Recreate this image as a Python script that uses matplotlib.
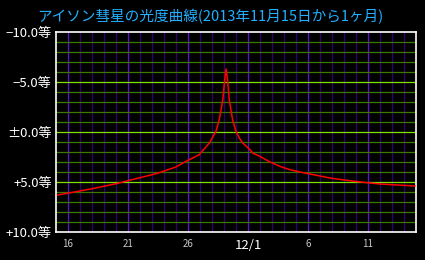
import numpy as np
import matplotlib.pyplot as plt

plt.rcParams['font.family'] = ['Noto Sans CJK JP', 'DejaVu Sans']

# days since 2013-11-15, magnitude
days = [0.14, 1.67, 3.33, 5.0, 6.67, 8.33, 10.0, 10.83, 11.94, 12.78, 13.33,
        13.6, 13.9, 14.03, 14.17, 14.3, 14.44, 14.72, 15.0, 15.33, 15.56,
        16.17, 16.39, 17.0, 17.83, 18.67, 19.5, 20.33, 21.17, 22.0, 22.83,
        23.67, 24.5, 25.2, 26.17, 27.0, 29.9]
mags = [6.3, 5.97, 5.6, 5.17, 4.67, 4.17, 3.5, 2.94, 2.27, 1.1, -0.06,
        -1.2, -3.2, -4.9, -6.3, -5.2, -3.2, -1.2, -0.06, 0.7, 1.1,
        1.77, 2.1, 2.44, 3.0, 3.44, 3.77, 4.0, 4.2, 4.4, 4.6,
        4.74, 4.87, 4.97, 5.1, 5.2, 5.4]

ytick_vals = [-10, -5, 0, 5, 10]
ytick_labels = ['−10.0等', '−5.0等', '±0.0等', '+5.0等', '+10.0等']
xtick_vals = [1, 6, 11, 16, 21, 26]
xtick_labels = ['16', '21', '26', '12/1', '6', '11']

fig = plt.figure(figsize=(4.25, 2.6), dpi=100, facecolor='black')
ax = fig.add_axes([56/425, 1-232/260, 360/425, 200/260])
ax.set_facecolor('black')

# grid: 1 day vertical, 1 mag horizontal
for d in range(1, 30):
    major = (d - 1) % 5 == 0
    ax.axvline(d, color='#6010d8' if major else '#300070', lw=0.9, zorder=1)
for m in range(-9, 10):
    major = m % 5 == 0
    ax.axhline(m, color='#80e000' if major else '#3c7800', lw=0.9, zorder=2)

ax.plot(days, mags, color='#ff0000', lw=1.1, zorder=3)

ax.set_xlim(0, 30)
ax.set_ylim(10, -10)
for s in ax.spines.values():
    s.set_color('white')
    s.set_linewidth(1.2)

ax.set_yticks(ytick_vals)
ax.set_yticklabels(ytick_labels, color='white', fontsize=9.5)
ax.set_xticks(xtick_vals)
ax.set_xticklabels(xtick_labels)
for lab in ax.get_xticklabels():
    if lab.get_text() == '12/1':
        lab.set_color('white')
        lab.set_fontsize(9.5)
    else:
        lab.set_color('#c8c8c8')
        lab.set_fontsize(7)
ax.tick_params(axis='x', length=0, pad=5)
ax.tick_params(axis='y', length=0, pad=3)

fig.suptitle('アイソン彗星の光度曲線(2013年11月15日から1ヶ月)',
             color='#20b0ff', fontsize=10.5, x=0.495, y=0.935, va='center')

fig.savefig('out.png', facecolor='black')
